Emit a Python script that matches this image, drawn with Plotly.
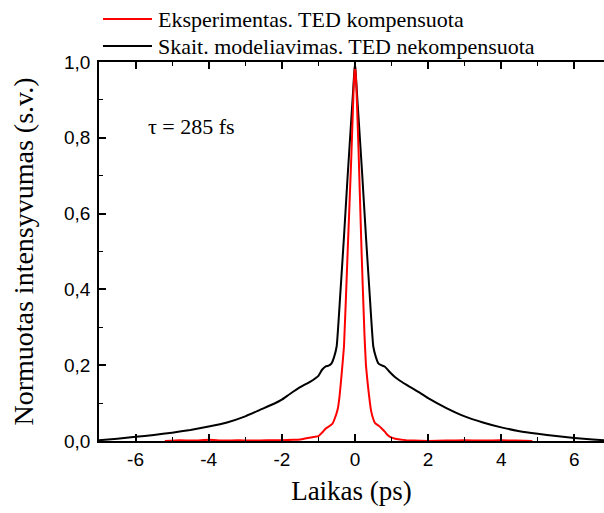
import plotly.graph_objects as go

# ---- data ----
black_t = [-7.0, -6.5, -6.0, -5.5, -5.0, -4.5, -4.0, -3.5, -3.0, -2.6, -2.2, -2.0, -1.78, -1.5,
           -1.23, -1.0, -0.9, -0.8, -0.72, -0.64, -0.57, -0.5, -0.4, -0.3, -0.2, -0.1, -0.05, 0.0,
           0.05, 0.1, 0.2, 0.3, 0.4, 0.5, 0.57, 0.64, 0.72, 0.82, 0.95, 1.1, 1.23, 1.5, 1.78, 2.0,
           2.5, 3.0, 3.5, 4.0, 4.5, 5.0, 5.5, 6.0, 6.5, 6.81]
black_i = [0.002, 0.006, 0.011, 0.016, 0.022, 0.029, 0.038, 0.049, 0.065, 0.082, 0.099, 0.109, 0.124, 0.142,
           0.156, 0.172, 0.188, 0.197, 0.199, 0.205, 0.222, 0.25, 0.39, 0.54, 0.70, 0.85, 0.925, 1.0,
           0.925, 0.85, 0.70, 0.54, 0.39, 0.25, 0.222, 0.205, 0.200, 0.196, 0.182, 0.168, 0.159, 0.143, 0.127, 0.113,
           0.087, 0.065, 0.049, 0.036, 0.026, 0.019, 0.013, 0.008, 0.004, 0.002]

red_t = [-5.2, -4.8, -4.4, -4.0, -3.6, -3.2, -2.8, -2.4, -2.0, -1.7, -1.5, -1.3, -1.1, -1.0, -0.9,
         -0.8, -0.72, -0.62, -0.55, -0.47, -0.42, -0.38, -0.3, -0.2, -0.1, -0.04, 0.0, 0.04, 0.1,
         0.18, 0.26, 0.3, 0.35, 0.44, 0.5, 0.55, 0.65, 0.73, 0.82, 0.9, 0.96, 1.1, 1.23, 1.4, 1.6,
         2.0, 2.5, 3.0, 3.5, 4.0, 4.4, 4.85]
red_i = [0.0, 0.002, 0.001, 0.003, 0.001, 0.002, 0.001, 0.002, 0.002, 0.003, 0.004, 0.008, 0.011, 0.013, 0.022,
         0.033, 0.038, 0.045, 0.060, 0.085, 0.12, 0.16, 0.25, 0.50, 0.75, 0.92, 1.0, 0.93, 0.76,
         0.50, 0.28, 0.20, 0.15, 0.08, 0.058, 0.047, 0.040, 0.033, 0.024, 0.015, 0.011, 0.006, 0.004, 0.002, 0.001,
         0.0, 0.001, 0.002, 0.001, 0.002, 0.001, 0.0]

x_tickvals = [-6, -4, -2, 0, 2, 4, 6]
x_ticktext = ["-6", "-4", "-2", "0", "2", "4", "6"]
y_tickvals = [0.0, 0.2, 0.4, 0.6, 0.8, 1.0]
y_ticktext = ["0,0", "0,2", "0,4", "0,6", "0,8", "1,0"]

series_names = ["Eksperimentas. TED kompensuota", "Skait. modeliavimas. TED nekompensuota"]
series_colors = ["#ff0000", "#000000"]

SERIF = "Liberation Serif, Times New Roman, serif"
SANS = "Liberation Sans, Arial, sans-serif"

fig = go.Figure()
fig.add_trace(go.Scatter(x=black_t, y=black_i, mode="lines",
                         line=dict(color=series_colors[1], width=2, shape="spline", smoothing=0.4),
                         showlegend=False))
fig.add_trace(go.Scatter(x=red_t, y=red_i, mode="lines",
                         line=dict(color=series_colors[0], width=2, shape="spline", smoothing=0.3),
                         showlegend=False))

# manual legend (long line samples like the reference)
L, W, T, H = 99, 505, 62, 379
def px_x(p):
    return (p - L) / W
def px_y(p):
    return (T + H - p) / H

legend_rows = [19, 46]
for name, col, ry in zip(series_names, series_colors, legend_rows):
    fig.add_shape(type="line", xref="paper", yref="paper",
                  x0=px_x(103), x1=px_x(152), y0=px_y(ry), y1=px_y(ry),
                  line=dict(color=col, width=2))
    fig.add_annotation(xref="paper", yref="paper", x=px_x(156), y=px_y(ry),
                       text=name, showarrow=False, xanchor="left", yanchor="middle",
                       font=dict(family=SERIF, size=22, color="black"))

fig.add_annotation(xref="paper", yref="paper", x=px_x(146), y=px_y(127),
                   text="τ = 285 fs", showarrow=False, xanchor="left", yanchor="middle",
                   font=dict(family=SERIF, size=22, color="black"))

fig.update_layout(
    width=604, height=513,
    margin=dict(l=L, r=604 - L - W, t=T, b=513 - T - H, pad=0),
    plot_bgcolor="white", paper_bgcolor="white",
    separators=", ",
    showlegend=False,
)
fig.update_xaxes(
    range=[-7.0, 6.81], showgrid=False, zeroline=False,
    showline=True, linecolor="black", linewidth=1.5, mirror="ticks",
    ticks="inside", ticklen=7, tickwidth=1.6, tickcolor="black",
    tickvals=x_tickvals, ticktext=x_ticktext,
    tickfont=dict(family=SANS, size=19, color="black"),
    minor=dict(ticks="inside", ticklen=4, tickwidth=1.3, tickcolor="black", dtick=1, tick0=-7),
    title=dict(text="Laikas (ps)", font=dict(family=SERIF, size=27, color="black"), standoff=13),
)
fig.update_yaxes(
    range=[0, 1.0], showgrid=False, zeroline=False,
    showline=True, linecolor="black", linewidth=1.5, mirror=False,
    ticks="inside", ticklen=7, tickwidth=1.6, tickcolor="black",
    tickvals=y_tickvals, ticktext=y_ticktext,
    tickfont=dict(family=SANS, size=19, color="black"),
    ticklabelstandoff=3,
    minor=dict(ticks="inside", ticklen=4, tickwidth=1.3, tickcolor="black", dtick=0.1, tick0=0),
    title=dict(text="Normuotas intensyvumas (s.v.)", font=dict(family=SERIF, size=28, color="black"), standoff=22),
)

fig.write_html("out.html")
